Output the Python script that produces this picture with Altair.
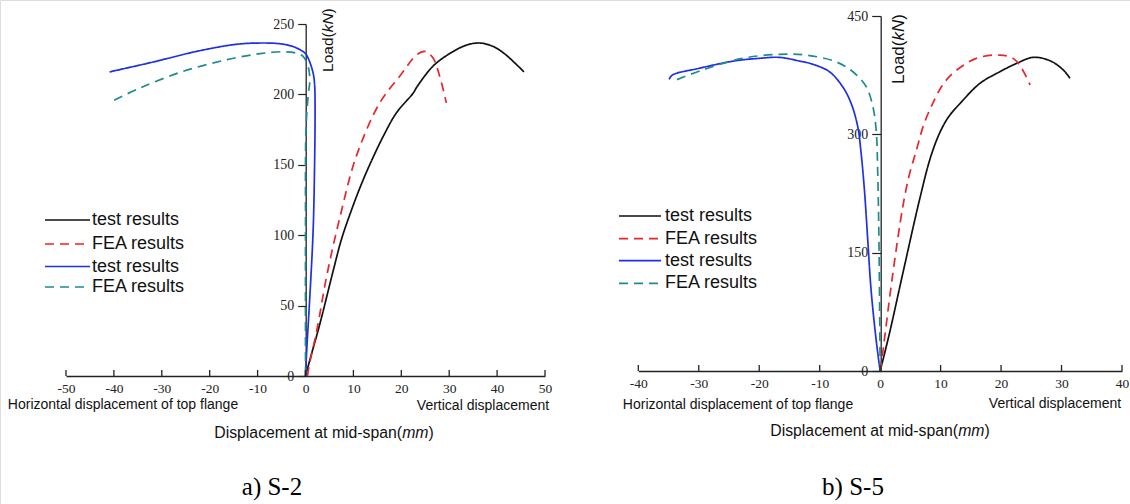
import altair as alt
import pandas as pd

# ---------------- S-2 (left panel) ----------------
s2_test_v_x = [0, 1.2, 3.0, 5.8, 7.5, 9.4, 11.4, 13.4, 16.2, 19.0, 22.5, 23.2, 26.6, 30.1, 33.6, 36.4, 39.2, 41.5, 43.8, 45.6]
s2_test_v_L = [0, 15, 37, 75, 97, 116, 134, 150, 170, 187, 201, 205, 220, 229, 235, 236.5, 234, 229, 222, 216]
s2_fea_v_x = [0.4, 0.8, 2.4, 4.4, 7.2, 10.6, 15.5, 19.7, 23.2, 24.9, 26.6, 28.0, 29.4]
s2_fea_v_L = [0, 8, 33, 70.6, 113, 156, 194, 213, 228, 230.5, 226, 213, 194]
s2_test_h_x = [0, 0.3, 0.9, 1.6, 1.9, 2.0, 1.9, 1.6, 0.7, 0.0, -0.8, -2.6, -5.4, -10.9, -15.1, -22.8, -31.8, -40.9]
s2_test_h_L = [0, 21, 56, 104, 151, 190, 207, 215, 224.6, 229, 231, 234, 236, 236.4, 235.3, 230.5, 223, 216]
s2_fea_h_x = [0, 0.0, 0.1, 0.55, 0.9, 0.55, -0.5, -1.9, -4.7, -9.5, -16.5, -25.6, -34.6, -40.9]
s2_fea_h_L = [0, 100, 175, 199, 210, 219.8, 227, 229.3, 230.3, 228.9, 224.6, 216.3, 204.5, 194.3]
s2_xticks = [-50, -40, -30, -20, -10, 0, 10, 20, 30, 40, 50]
s2_yticks = [0, 50, 100, 150, 200, 250]

# ---------------- S-5 (right panel) ----------------
s5_test_v_x = [0, 1.54, 3.75, 6.5, 8.3, 9.8, 11.3, 13.2, 16.5, 19.8, 22.6, 25.3, 28.1, 30.3, 31.4]
s5_test_v_L = [0, 47.8, 123.8, 216.7, 270, 301, 322, 339, 364.6, 379.4, 390, 397.6, 393.3, 381.5, 371]
s5_fea_v_x = [0, 0.2, 2.1, 3.75, 4.8, 6.0, 7.2, 8.7, 10.2, 12.0, 15.9, 19.8, 22.0, 23.4, 24.8]
s5_fea_v_L = [0, 9.8, 123.8, 208.3, 248, 280, 312, 339.3, 361, 377.3, 396.3, 400.5, 396.3, 383.7, 362.5]
s5_test_h_x = [0, -0.66, -1.5, -2.05, -2.6, -3.2, -3.7, -4.8, -6.2, -8.4, -11.2, -13.4, -16.7, -20.0, -23.9, -30.0, -34.4, -34.9]
s5_test_h_L = [0, 39.3, 102.7, 166, 229.4, 280, 309.6, 339.3, 360.3, 379.4, 389, 393, 397.6, 396.3, 393.3, 383.6, 375, 369.7]
s5_fea_h_x = [0, -0.2, -0.4, -0.66, -1.2, -2.3, -4.5, -7.3, -12.3, -16.7, -22.8, -29.4, -33.8]
s5_fea_h_L = [0, 166, 250.6, 305.4, 335, 360.3, 379.3, 392, 400.5, 401.4, 396.3, 381.5, 368.8]
s5_xticks = [-40, -30, -20, -10, 0, 10, 20, 30, 40]
s5_yticks = [0, 150, 300, 450]

series_names = ["test V", "FEA V", "test H", "FEA H"]
legend_labels = ["test results", "FEA results", "test results", "FEA results"]
series_colors = ["#111111", "#e8262a", "#1f2fe6", "#1e8c8c"]
series_dash = [[1, 0], [9, 6], [1, 0], [9, 6]]

SERIF = "Liberation Serif"
SANS = "Liberation Sans"


def panel_df(curves):
    rows = []
    for name, (xs, ls) in zip(series_names, curves):
        for i, (a, b) in enumerate(zip(xs, ls)):
            rows.append({"series": name, "x": a, "load": b, "idx": i})
    return pd.DataFrame(rows)


one = pd.DataFrame({"k": [0]})


def panel(df, ticks, yticks, xdom, xrange, ydom, yrange, xoff, yoff, ylabsize, ytick):
    xscale = alt.Scale(domain=xdom, range=xrange, nice=False, zero=False)
    yscale = alt.Scale(domain=ydom, range=yrange, nice=False, zero=False)
    xaxis = alt.Axis(orient="bottom", offset=xoff, values=ticks, ticks=False, tickSize=0,
                     labelFont=SERIF, labelFontSize=13.5, labelColor="#222222", labelPadding=5,
                     domainColor="#222222", domainWidth=1.3, grid=False, title=None,
                     labelFlush=False, labelOverlap=False, labelExpr="'' + datum.value")
    yaxis = alt.Axis(orient="left", offset=yoff, values=yticks, tickSize=ytick, tickColor="#222222",
                     tickWidth=1.2, labelFont=SERIF, labelFontSize=ylabsize, labelColor="#222222",
                     labelPadding=4, domainColor="#222222", domainWidth=1.3, grid=False, title=None,
                     labelFlush=False, labelOverlap=False)
    lines = alt.Chart(df).mark_line(strokeWidth=1.7, interpolate="catmull-rom").encode(
        x=alt.X("x:Q", scale=xscale, axis=xaxis),
        y=alt.Y("load:Q", scale=yscale, axis=yaxis),
        color=alt.Color("series:N", scale=alt.Scale(domain=series_names, range=series_colors), legend=None),
        strokeDash=alt.StrokeDash("series:N", scale=alt.Scale(domain=series_names, range=series_dash), legend=None),
        order=alt.Order("idx:Q"),
    )
    tdf = pd.DataFrame({"x": ticks})
    base_y = yrange[0]
    tk = alt.Chart(tdf).mark_rule(color="#222222", strokeWidth=1.3).encode(
        x=alt.X("x:Q", scale=xscale, axis=xaxis),
        y=alt.value(base_y),
        y2=alt.value(base_y - 6),
    )
    return alt.layer(lines, tk)


left = panel(panel_df([(s2_test_v_x, s2_test_v_L), (s2_fea_v_x, s2_fea_v_L),
                       (s2_test_h_x, s2_test_h_L), (s2_fea_h_x, s2_fea_h_L)]),
             s2_xticks, s2_yticks, [-50, 50], [66, 545], [0, 250], [376, 24],
             -128, -305.7, 14, 8)
right = panel(panel_df([(s5_test_v_x, s5_test_v_L), (s5_fea_v_x, s5_fea_v_L),
                        (s5_test_h_x, s5_test_h_L), (s5_fea_h_x, s5_fea_h_L)]),
              s5_xticks, s5_yticks, [-40, 40], [638.3, 1122], [0, 450], [371, 16],
              -133, -880.7, 14, 9)


def txt(t, x, y, size, font=SANS, style="normal", align="center", baseline="middle", angle=0, color="#111111"):
    return alt.Chart(one).mark_text(text=t, font=font, fontSize=size, fontStyle=style, align=align,
                                    baseline=baseline, angle=angle, color=color).encode(
        x=alt.value(x), y=alt.value(y))


ann = []
# y-axis titles "Load(kN)"
ann += [txt("Load(", 327.5, 71.9, 15.5, align="left", angle=270),
        txt("kN", 327.5, 32.3, 15.5, style="italic", align="left", angle=270),
        txt(")", 327.5, 13.4, 15.5, align="left", angle=270)]
ann += [txt("Load(", 899, 84, 17, align="left", angle=270),
        txt("kN", 899, 40.5, 17, style="italic", align="left", angle=270),
        txt(")", 899, 19.7, 17, align="left", angle=270)]
# x-axis titles
for cx, cy in [(324, 433), (880, 431)]:
    s = cx - 109.75
    ann += [txt("Displacement at mid-span(", s, cy, 15.8, align="left"),
            txt("mm", s + 187.9, cy, 15.8, style="italic", align="left"),
            txt(")", s + 214.2, cy, 15.8, align="left")]
# sub labels
ann += [txt("Horizontal displacement of top flange", 123, 405, 14),
        txt("Vertical displacement", 483, 406, 14),
        txt("Horizontal displacement of top flange", 738, 405, 14),
        txt("Vertical displacement", 1055, 404, 14)]
# captions
ann += [txt("a) S-2", 272, 495, 25, font=SERIF, baseline="alphabetic", color="#000000"),
        txt("b) S-5", 853, 495, 25, font=SERIF, baseline="alphabetic", color="#000000")]

# legends
legend_rows = {"left": (45, 90, 92, [220, 244, 266.5, 287]),
               "right": (619, 661, 665, [216, 238.7, 260.7, 283.3])}
for key, (x1, x2, xl, rows) in legend_rows.items():
    for lab, col, dash, yy in zip(legend_labels, series_colors, series_dash, rows):
        ann.append(alt.Chart(one).mark_rule(color=col, strokeWidth=1.7, strokeDash=dash).encode(
            x=alt.value(x1), x2=alt.value(x2), y=alt.value(yy)))
        ann.append(txt(lab, xl, yy, 18, align="left"))

chart = alt.layer(left, right, *ann).resolve_scale(
    x="independent", y="independent"
).properties(
    width=1130, height=504, autosize=alt.AutoSizeParams(type="none"), padding=0
).configure_view(stroke=None).configure(background="white")

chart.save("out.html", embed_options={"renderer": "svg", "actions": False})
